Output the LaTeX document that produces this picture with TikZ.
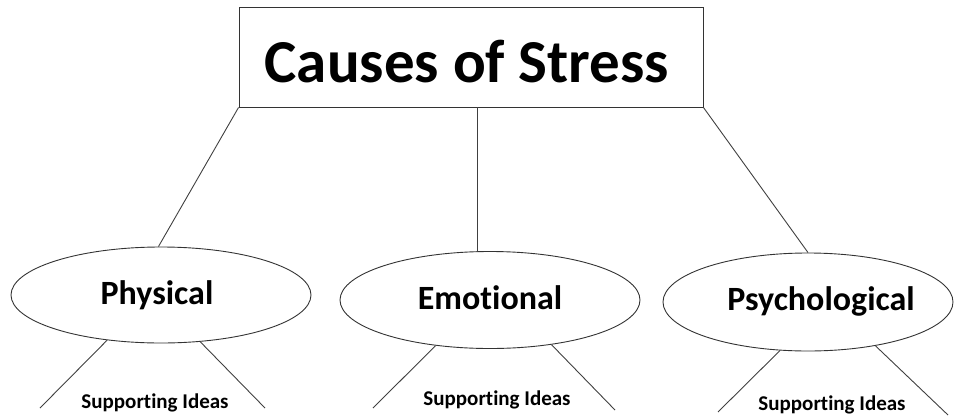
\documentclass[tikz,border=0pt]{standalone}
\usepackage{fontspec}
\setmainfont{Carlito}[Ligatures={NoCommon}]
\usetikzlibrary{shapes.geometric}
\tikzset{
  conn/.style={draw=black!75, line width=0.9pt},
  bubble/.style={ellipse, draw=black!80, line width=0.9pt, inner sep=0pt},
  title/.style={font=\fontsize{61}{61}\selectfont\bfseries, anchor=base, inner sep=0pt},
  cat/.style={font=\fontsize{34}{34}\selectfont\bfseries, anchor=base, inner sep=0pt},
  idea/.style={font=\fontsize{21}{21}\selectfont\bfseries, anchor=base, inner sep=0pt},
}
\begin{document}
\begin{tikzpicture}[x=1pt,y=-1pt]
\useasboundingbox (0,0) rectangle (954,418);
\node[draw=black!80, line width=0.9pt, minimum width=464pt, minimum height=100pt, inner sep=0pt] (box) at (471,57) {};
\node[title] (ttl) at (467,82) {Causes of Stress};

\node[bubble, minimum width=300pt, minimum height=96pt] (e1) at (161,295) {};
\node[bubble, minimum width=300pt, minimum height=97pt] (e2) at (490,300) {};
\node[bubble, minimum width=290pt, minimum height=98pt] (e3) at (808,302) {};

\node[cat] (t1) at (157,304) {Physical};
\node[cat] (t2) at (490,309) {Emotional};
\node[cat] (t3) at (821,310) {Psychological};

\node[idea] (s1) at (155,408) {Supporting Ideas};
\node[idea] (s2) at (497,405) {Supporting Ideas};
\node[idea] (s3) at (832,410) {Supporting Ideas};

\coordinate (mtop) at (477,107);
\coordinate (mbot) at (477,252);
\draw[conn] (box.south west) -- (e1.93);
\draw[conn] (mtop) -- (mbot);
\draw[conn] (box.south east) -- (e3.north);

\coordinate (a1) at (40,408);
\coordinate (b1) at (265,408);
\coordinate (a2) at (373,408);
\coordinate (b2) at (615,410);
\coordinate (a3) at (718,412);
\coordinate (b3) at (948,415);
\draw[conn] (e1.220) -- (a1);
\draw[conn] (e1.310) -- (b1);
\draw[conn] (e2.220) -- (a2);
\draw[conn] (e2.324) -- (b2);
\draw[conn] (e3.240) -- (a3);
\draw[conn] (e3.327) -- (b3);
\end{tikzpicture}
\end{document}
